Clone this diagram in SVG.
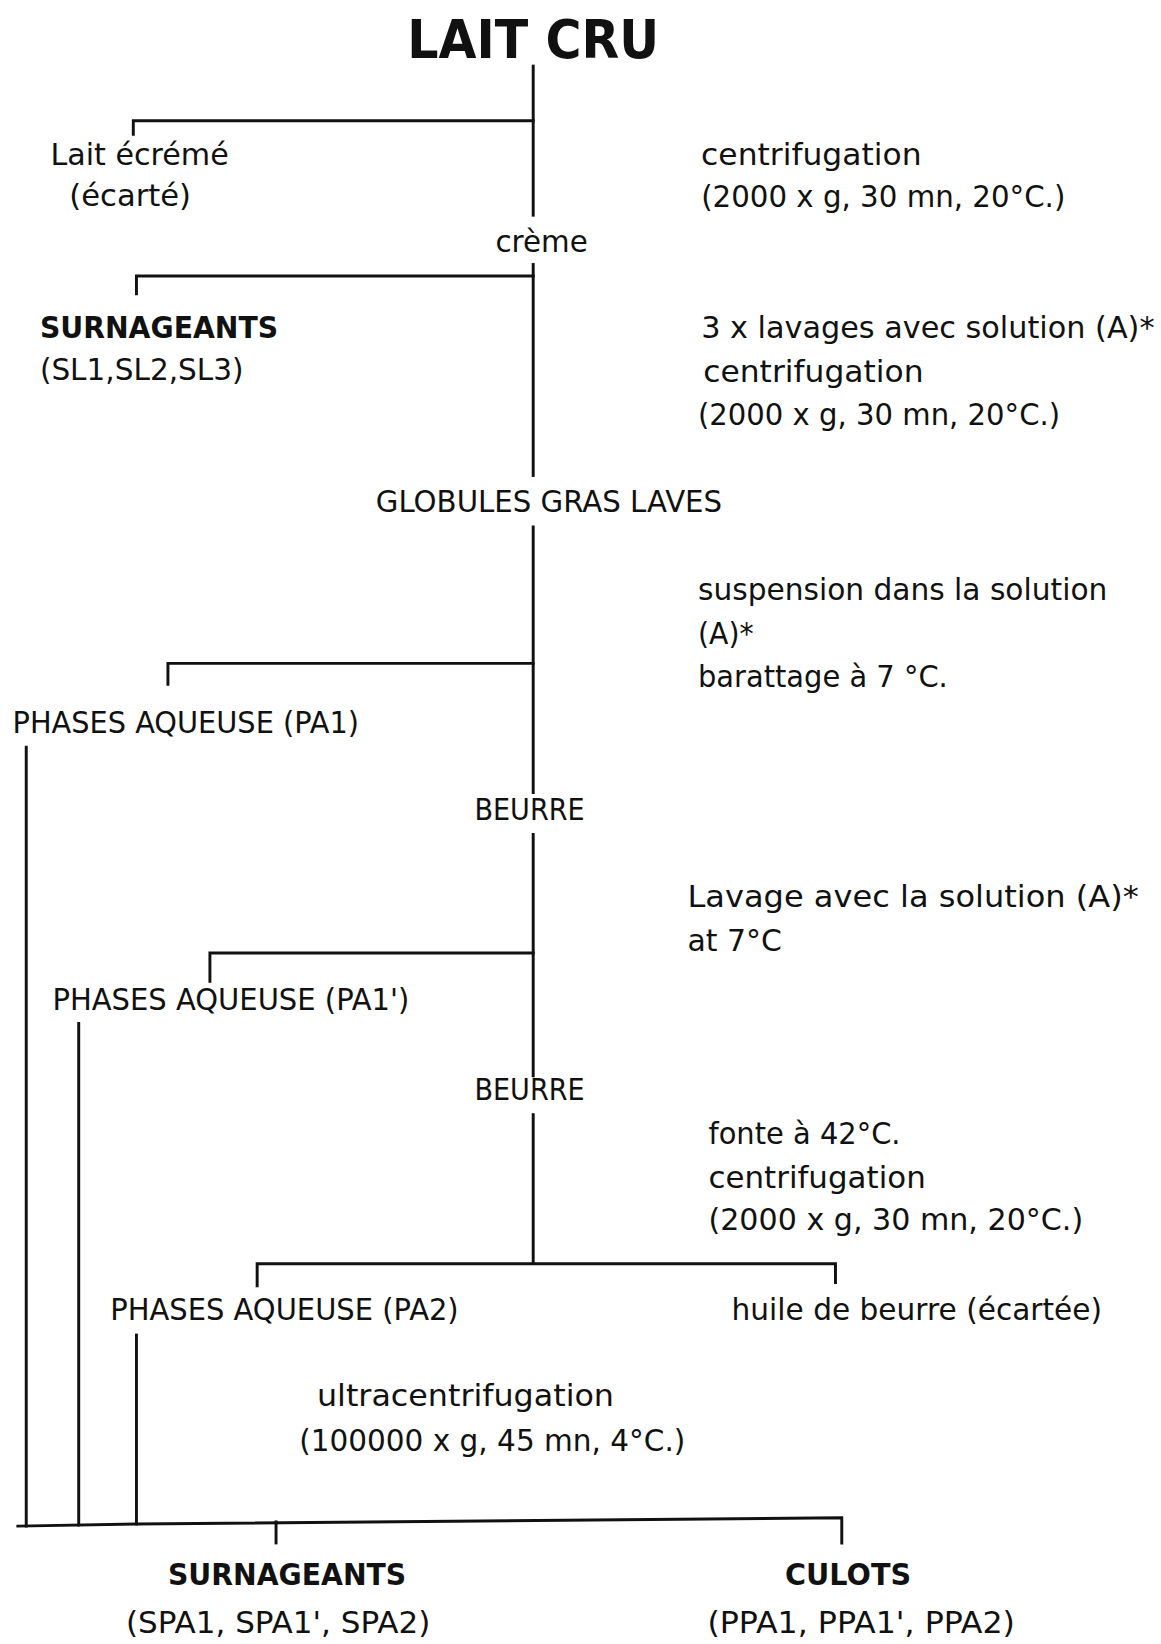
<svg xmlns="http://www.w3.org/2000/svg" width="1161" height="1644" viewBox="0 0 1161 1644">
<style>
text{font-family:"DejaVu Sans","Liberation Sans",sans-serif;font-size:29px;fill:#111}
.b{font-weight:bold}
.t{font-size:50px;font-weight:bold}
.ln{stroke:#111;stroke-width:2.8;fill:none;stroke-linecap:square}
</style>
<rect width="1161" height="1644" fill="#fff"/>
<g transform="scale(1.0496)">
<g id="connectors">
<path class="ln" d="M508 63V205"/>
<path class="ln" d="M127 128V115H508"/>
<path class="ln" d="M508 252V453"/>
<path class="ln" d="M130 280V263H508"/>
<path class="ln" d="M508 502V755"/>
<path class="ln" d="M160 652V632H508"/>
<path class="ln" d="M508 795V1025"/>
<path class="ln" d="M200 935V908H508"/>
<path class="ln" d="M508 1062V1203"/>
<path class="ln" d="M245 1225V1204H796V1222"/>
<path class="ln" d="M25 712V1454"/>
<path class="ln" d="M75 975V1453"/>
<path class="ln" d="M130 1272V1452"/>
<path class="ln" d="M17 1454L130 1452L802 1446V1470"/>
<path class="ln" d="M263 1450V1470"/>
</g>
<g id="n-lait-cru"><text class="t" x="388" y="55" textLength="240" lengthAdjust="spacingAndGlyphs">LAIT CRU</text></g>
<g id="n-lait-ecreme"><text x="48" y="157" textLength="170" lengthAdjust="spacingAndGlyphs">Lait écrémé</text><text x="66" y="196" textLength="116" lengthAdjust="spacingAndGlyphs">(écarté)</text></g>
<g id="s-centri1"><text x="668" y="157" textLength="210" lengthAdjust="spacingAndGlyphs">centrifugation</text><text x="668" y="197" textLength="347" lengthAdjust="spacingAndGlyphs">(2000 x g, 30 mn, 20°C.)</text></g>
<g id="n-creme"><text x="472" y="240" textLength="88" lengthAdjust="spacingAndGlyphs">crème</text></g>
<g id="n-surnageants1"><text class="b" x="38" y="322" textLength="227" lengthAdjust="spacingAndGlyphs">SURNAGEANTS</text><text x="38" y="362" textLength="194" lengthAdjust="spacingAndGlyphs">(SL1,SL2,SL3)</text></g>
<g id="s-lavages"><text x="668" y="322" textLength="432" lengthAdjust="spacingAndGlyphs">3 x lavages avec solution (A)*</text><text x="670" y="364" textLength="210" lengthAdjust="spacingAndGlyphs">centrifugation</text><text x="665" y="405" textLength="345" lengthAdjust="spacingAndGlyphs">(2000 x g, 30 mn, 20°C.)</text></g>
<g id="n-globules"><text x="358" y="488" textLength="330" lengthAdjust="spacingAndGlyphs">GLOBULES GRAS LAVES</text></g>
<g id="s-suspension"><text x="665" y="572" textLength="390" lengthAdjust="spacingAndGlyphs">suspension dans la solution</text><text x="665" y="614" textLength="53" lengthAdjust="spacingAndGlyphs">(A)*</text><text x="665" y="655" textLength="238" lengthAdjust="spacingAndGlyphs">barattage à 7 °C.</text></g>
<g id="n-pa1"><text x="12" y="698" textLength="330" lengthAdjust="spacingAndGlyphs">PHASES AQUEUSE (PA1)</text></g>
<g id="n-beurre1"><text x="452" y="781" textLength="105" lengthAdjust="spacingAndGlyphs">BEURRE</text></g>
<g id="s-lavage"><text x="655" y="864" textLength="430" lengthAdjust="spacingAndGlyphs">Lavage avec la solution (A)*</text><text x="655" y="906" textLength="90" lengthAdjust="spacingAndGlyphs">at 7°C</text></g>
<g id="n-pa1p"><text x="50" y="962" textLength="340" lengthAdjust="spacingAndGlyphs">PHASES AQUEUSE (PA1')</text></g>
<g id="n-beurre2"><text x="452" y="1048" textLength="105" lengthAdjust="spacingAndGlyphs">BEURRE</text></g>
<g id="s-fonte"><text x="675" y="1090" textLength="183" lengthAdjust="spacingAndGlyphs">fonte à 42°C.</text><text x="675" y="1132" textLength="207" lengthAdjust="spacingAndGlyphs">centrifugation</text><text x="675" y="1172" textLength="357" lengthAdjust="spacingAndGlyphs">(2000 x g, 30 mn, 20°C.)</text></g>
<g id="n-pa2"><text x="105" y="1258" textLength="332" lengthAdjust="spacingAndGlyphs">PHASES AQUEUSE (PA2)</text></g>
<g id="n-huile"><text x="697" y="1258" textLength="353" lengthAdjust="spacingAndGlyphs">huile de beurre (écartée)</text></g>
<g id="s-ultra"><text x="302" y="1340" textLength="283" lengthAdjust="spacingAndGlyphs">ultracentrifugation</text><text x="285" y="1382" textLength="368" lengthAdjust="spacingAndGlyphs">(100000 x g, 45 mn, 4°C.)</text></g>
<g id="n-surnageants2"><text class="b" x="160" y="1510" textLength="227" lengthAdjust="spacingAndGlyphs">SURNAGEANTS</text><text x="120" y="1556" textLength="290" lengthAdjust="spacingAndGlyphs">(SPA1, SPA1', SPA2)</text></g>
<g id="n-culots"><text class="b" x="748" y="1510" textLength="120" lengthAdjust="spacingAndGlyphs">CULOTS</text><text x="674" y="1556" textLength="293" lengthAdjust="spacingAndGlyphs">(PPA1, PPA1', PPA2)</text></g>
</g>
</svg>
